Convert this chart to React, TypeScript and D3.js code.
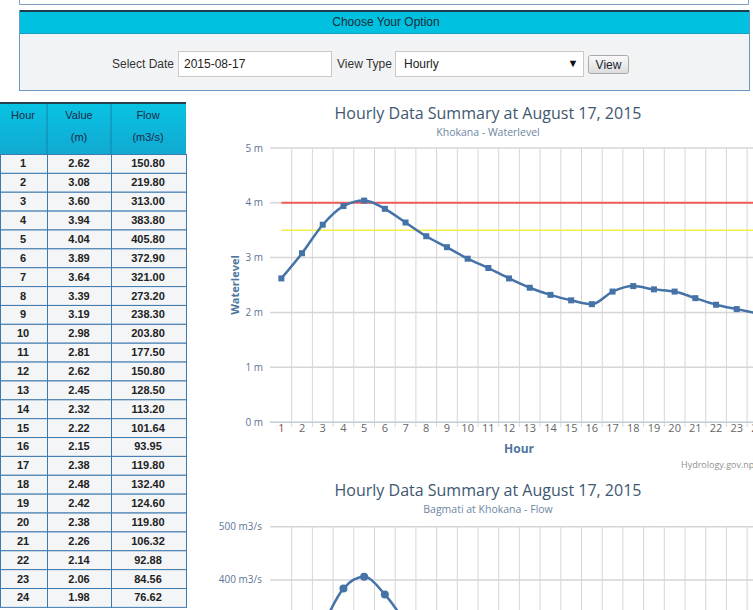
import React from "react";
import * as d3 from "d3";

// hourly readings for 2015-08-17, Khokana station
const hours = [1, 2, 3, 4, 5, 6, 7, 8, 9, 10, 11, 12, 13, 14, 15, 16, 17, 18, 19, 20, 21, 22, 23, 24];
const waterLevel = [2.62, 3.08, 3.6, 3.94, 4.04, 3.89, 3.64, 3.39, 3.19, 2.98, 2.81, 2.62, 2.45, 2.32, 2.22, 2.15, 2.38, 2.48, 2.42, 2.38, 2.26, 2.14, 2.06, 1.98];
const flow = [150.8, 219.8, 313.0, 383.8, 405.8, 372.9, 321.0, 273.2, 238.3, 203.8, 177.5, 150.8, 128.5, 113.2, 101.64, 93.95, 119.8, 132.4, 124.6, 119.8, 106.32, 92.88, 84.56, 76.62];
const levelTicks = [0, 1, 2, 3, 4, 5];
const flowTicks = [0, 100, 200, 300, 400, 500];
const dangerLevel = 4;
const warningLevel = 3.5;

const chartFont = "'Open Sans', 'DejaVu Sans', sans-serif";
const formFont = "'Liberation Sans', Arial, sans-serif";

const W = 753,
  H = 610;

const x = d3.scaleBand<number>().domain(hours).range([271, 271 + 24 * 20.7]).padding(0);
const cx = (h: number) => (x(h) as number) + x.bandwidth() / 2;
const yLevel = d3.scaleLinear().domain([0, 5]).range([422, 148]);
const yFlow = d3.scaleLinear().domain([0, 500]).range([793, 526.7]);

const Table = () => {
  const cols = [0, 47, 111, 186];
  const top = 154,
    rowH = 18.87;
  return (
    <g fontFamily={formFont} fontSize={11}>
      <defs>
        <linearGradient id="hdr" x1="0" y1="0" x2="0" y2="1">
          <stop offset="0" stopColor="#08c3e2" />
          <stop offset="1" stopColor="#12a9d2" />
        </linearGradient>
      </defs>
      <rect x={0} y={103} width={186} height={51} fill="url(#hdr)" />
      <rect x={0} y={102} width={186} height={2} fill="#25404f" />
      {[47, 111].map((c) => (
        <line key={c} x1={c} x2={c} y1={104} y2={154} stroke="#1583a8" />
      ))}
      <g fill="#1d2a4a" textAnchor="middle">
        <text x={23} y={119}>Hour</text>
        <text x={79} y={119}>Value</text>
        <text x={79} y={141}>(m)</text>
        <text x={148} y={119}>Flow</text>
        <text x={148} y={141}>(m3/s)</text>
      </g>
      {hours.map((h, i) => {
        const y0 = top + i * rowH;
        return (
          <g key={h}>
            {cols.slice(0, 3).map((c, j) => (
              <rect key={j} x={c + 0.5} y={y0 + 0.5} width={cols[j + 1] - c} height={rowH} fill="#f3f5f7" stroke="#3f7aae" />
            ))}
            <g fontWeight="bold" fill="#222" textAnchor="middle">
              <text x={23} y={y0 + rowH / 2 + 4}>{h}</text>
              <text x={79} y={y0 + rowH / 2 + 4}>{waterLevel[i].toFixed(2)}</text>
              <text x={148} y={y0 + rowH / 2 + 4}>{flow[i].toFixed(2)}</text>
            </g>
          </g>
        );
      })}
    </g>
  );
};

const Form = () => (
  <g fontFamily={formFont} fontSize={12}>
    <defs>
      <linearGradient id="btn" x1="0" y1="0" x2="0" y2="1">
        <stop offset="0" stopColor="#fafafa" />
        <stop offset="1" stopColor="#dcdcdc" />
      </linearGradient>
    </defs>
    <path d="M19.5,0V4.5H748.5V0" fill="none" stroke="#7f9fc2" />
    <rect x={19.5} y={10.5} width={730} height={80} fill="#f2f3f5" stroke="#6a98c4" />
    <rect x={20} y={11} width={729} height={23} fill="#00c1df" />
    <rect x={20} y={10} width={729} height={2} fill="#1f3c4c" />
    <line x1={20} x2={749} y1={33.5} y2={33.5} stroke="#1a9fc4" />
    <text x={386} y={26} textAnchor="middle" fill="#1d2b3a">Choose Your Option</text>
    <text x={174} y={68} textAnchor="end" fill="#333">Select Date</text>
    <rect x={178.5} y={51.5} width={153} height={25} fill="#fff" stroke="#c9c9c9" />
    <text x={184} y={68} fill="#222">2015-08-17</text>
    <text x={337} y={68} fill="#333">View Type</text>
    <rect x={395.5} y={51.5} width={188} height={25} fill="#fff" stroke="#c9c9c9" />
    <text x={404} y={68} fill="#222">Hourly</text>
    <text x={573} y={67} textAnchor="middle" fontSize={11} fill="#111">▼</text>
    <rect x={588.5} y={55.5} width={40} height={18} rx={2} fill="url(#btn)" stroke="#a9a9a9" />
    <text x={608.5} y={68.5} textAnchor="middle" fill="#223">View</text>
  </g>
);

const Grid = ({ top, bottom }: { top: number; bottom: number }) => (
  <g>
    {hours.map((h) => {
      const gx = (x(h) as number) + x.bandwidth();
      return <line key={h} x1={gx} x2={gx} y1={top} y2={bottom} stroke="#d6d6d6" />;
    })}
  </g>
);

const LevelChart = () => {
  const line = d3
    .line<number>()
    .x((_, i) => cx(hours[i]))
    .y((d) => yLevel(d))
    .curve(d3.curveMonotoneX);
  return (
    <g fontFamily={chartFont}>
      <text x={488} y={119} textAnchor="middle" fontSize={16} fill="#3e576f">Hourly Data Summary at August 17, 2015</text>
      <text x={488} y={135.5} textAnchor="middle" fontSize={10.5} fill="#6d869f">Khokana - Waterlevel</text>
      {levelTicks.map((t) => (
        <g key={t}>
          <line x1={270} x2={W} y1={yLevel(t)} y2={yLevel(t)} stroke="#d6d6d6" strokeWidth={1.5} />
          <text x={263} y={yLevel(t) + 3.5} textAnchor="end" fontSize={10} fill="#5d7596">{t} m</text>
        </g>
      ))}
      <Grid top={148} bottom={427} />
      <line x1={270} x2={W} y1={422.5} y2={422.5} stroke="#c0d0e0" />
      {hours.map((h, i) => (
        <text key={h} x={cx(h)} y={432} textAnchor="middle" fontSize={11} fill={i === 0 ? "#8a4a4a" : "#666"}>{h}</text>
      ))}
      <text x={519} y={453} textAnchor="middle" fontSize={12} fontWeight="bold" fill="#4d759e">Hour</text>
      <text transform="translate(239,285) rotate(-90)" textAnchor="middle" fontSize={11} fontWeight="bold" fill="#4d759e">Waterlevel</text>
      <line x1={cx(1)} x2={cx(24)} y1={yLevel(dangerLevel)} y2={yLevel(dangerLevel)} stroke="#ef5b5b" strokeWidth={2} />
      <line x1={cx(1)} x2={cx(24)} y1={yLevel(warningLevel)} y2={yLevel(warningLevel)} stroke="#f2ee4c" strokeWidth={1.5} />
      <path d={line(waterLevel) || ""} fill="none" stroke="#4572a7" strokeWidth={2.5} />
      {waterLevel.map((v, i) => (
        <rect key={i} x={cx(hours[i]) - 3} y={yLevel(v) - 3} width={6} height={6} fill="#4572a7" />
      ))}
      <text x={681} y={468} fontSize={9} fill="#909090">Hydrology.gov.np</text>
    </g>
  );
};

const FlowChart = () => {
  const line = d3
    .line<number>()
    .x((_, i) => cx(hours[i]))
    .y((d) => yFlow(d))
    .curve(d3.curveMonotoneX);
  // only ticks that fall inside the visible page
  const visibleTicks = flowTicks.filter((t) => yFlow(t) < H - 6);
  return (
    <g fontFamily={chartFont}>
      <text x={488} y={496} textAnchor="middle" fontSize={16} fill="#3e576f">Hourly Data Summary at August 17, 2015</text>
      <text x={488} y={512.5} textAnchor="middle" fontSize={10.5} fill="#6d869f">Bagmati at Khokana - Flow</text>
      {visibleTicks.map((t) => (
        <g key={t}>
          <line x1={270} x2={W} y1={yFlow(t)} y2={yFlow(t)} stroke="#d6d6d6" strokeWidth={1.5} />
          <text x={262} y={yFlow(t) + 3.5} textAnchor="end" fontSize={10} fill="#5d7596">{t} m3/s</text>
        </g>
      ))}
      <Grid top={526.7} bottom={H} />
      <path d={line(flow) || ""} fill="none" stroke="#4572a7" strokeWidth={2.5} />
      {flow.map((v, i) => (
        <circle key={i} cx={cx(hours[i])} cy={yFlow(v)} r={4} fill="#4572a7" />
      ))}
    </g>
  );
};

export default function App() {
  return (
    <svg width={W} height={H} style={{ position: "absolute", left: 0, top: 0, background: "#fff" }}>
      <Form />
      <Table />
      <LevelChart />
      <FlowChart />
    </svg>
  );
}
